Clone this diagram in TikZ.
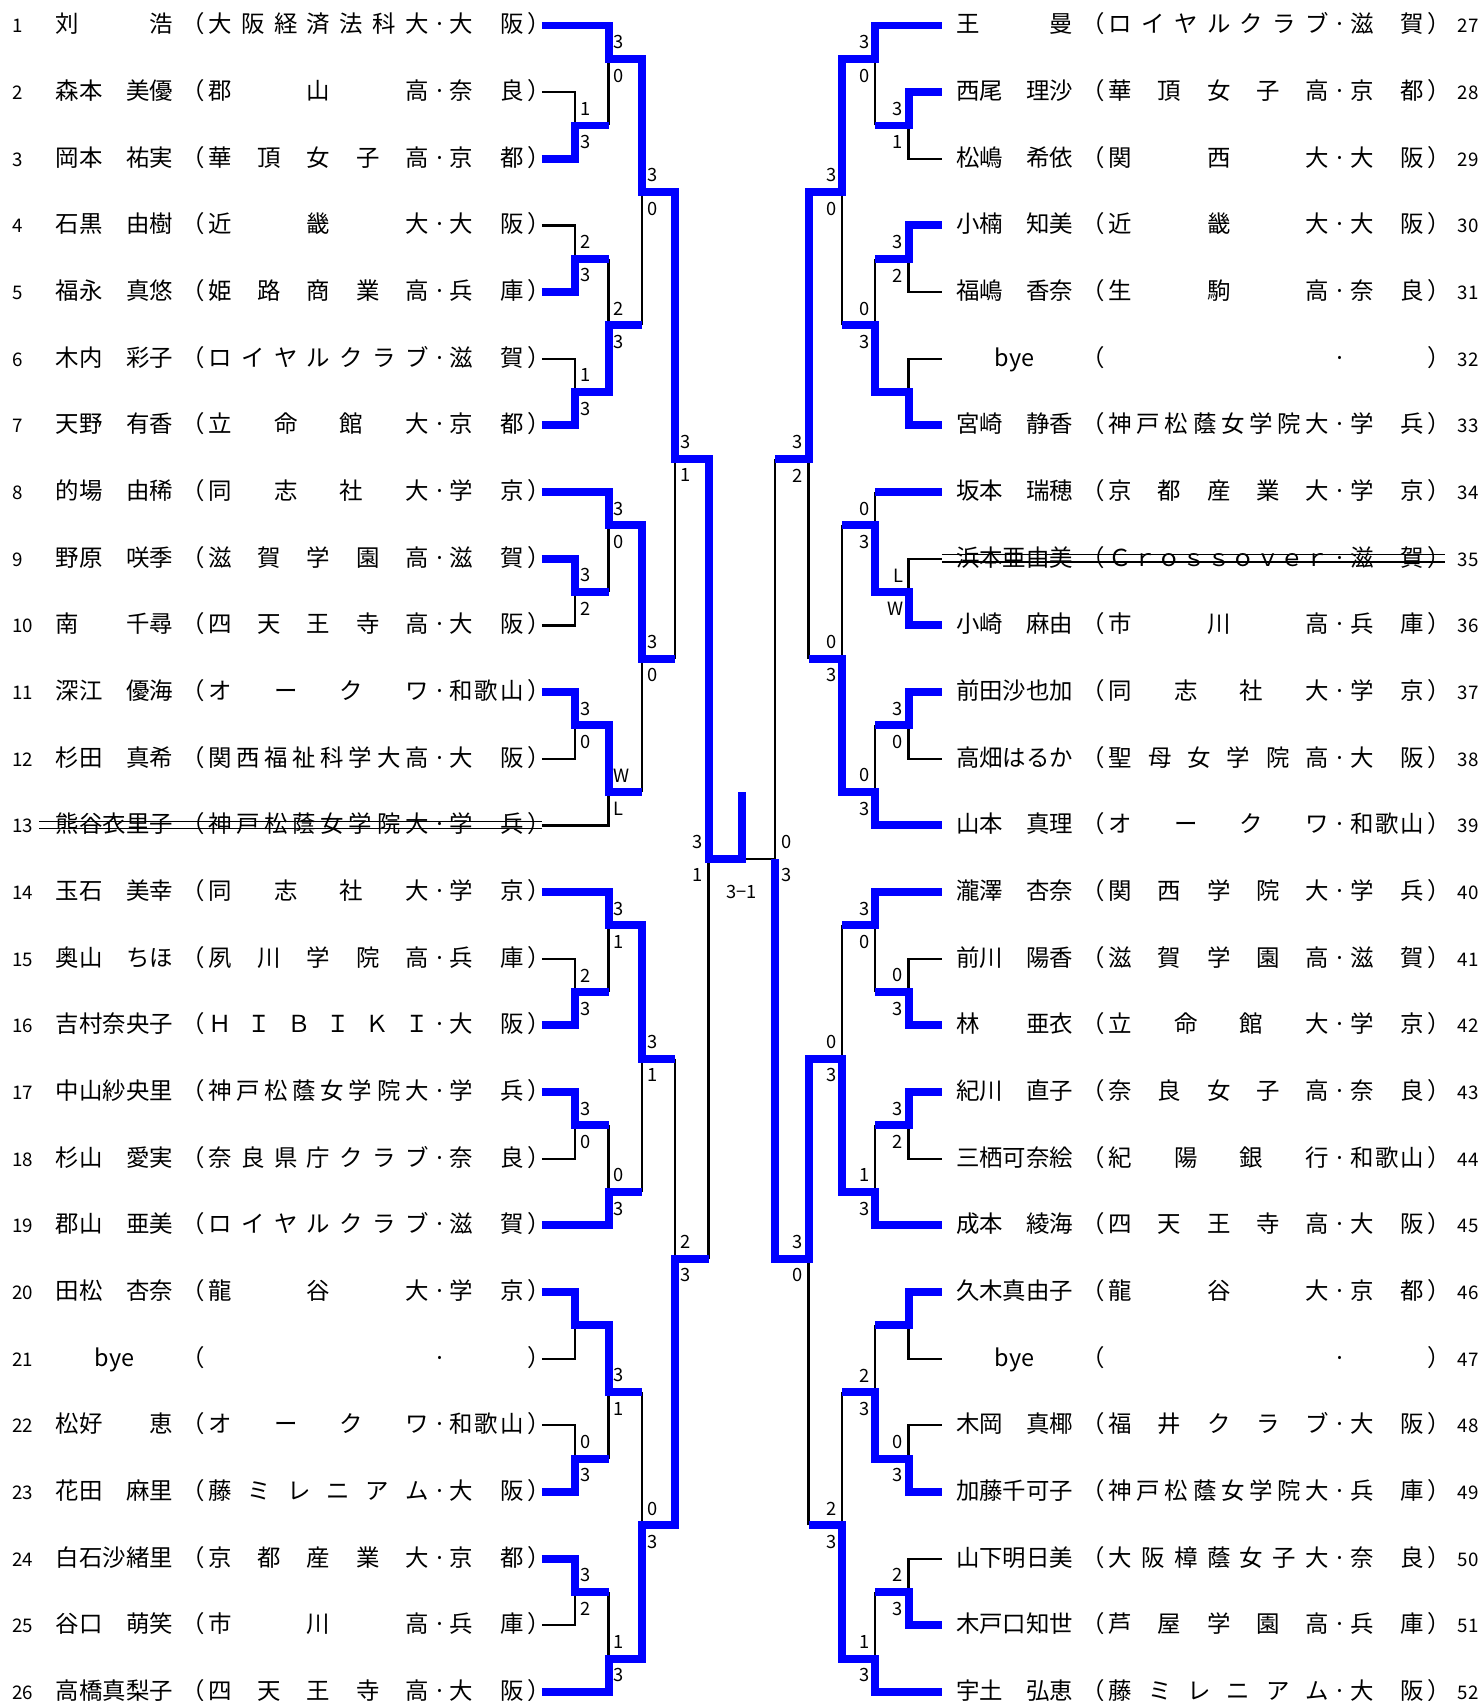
\documentclass[tikz,border=0pt]{standalone}
\usepackage{fontspec}
\setmainfont{Noto Sans CJK JP}
\pgfdeclarelayer{back}
\pgfsetlayers{back,main}
\definecolor{winblue}{RGB}{0,0,255}
% spread the characters of a word over a fixed width
\def\SpFirst#1{\ifx\relax#1\else#1\expandafter\SpRest\fi}
\def\SpRest#1{\ifx\relax#1\else\hfill#1\expandafter\SpRest\fi}
\newcommand\spreadbox[2]{\makebox[#1][s]{\expandafter\SpFirst#2\relax}}
\tikzset{
  win/.style={winblue, line width=3.4pt},
  lose/.style={black, line width=0.95pt},
  strike/.style={black, line width=0.6pt},
  entry/.style={inner sep=0pt, anchor=base west, font=\fontsize{10}{12}\selectfont},
  rownum/.style={inner sep=0pt, anchor=base west, font=\fontsize{8}{10}\selectfont},
  score/.style={inner sep=0pt, font=\fontsize{7.8}{9}\selectfont},
}

\begin{document}
\begin{tikzpicture}[x=0.5cm, y=-0.5cm]
\useasboundingbox (-22.26,-0.765) rectangle (22.26,50.27);

% players, left half
\foreach \n/\nm/\af/\pf in {
  1/{刘\hfill 浩}/大阪経済法科大/大阪, 2/{森本\hfill 美優}/郡山高/奈良,
  3/{岡本\hfill 祐実}/華頂女子高/京都, 4/{石黒\hfill 由樹}/近畿大/大阪,
  5/{福永\hfill 真悠}/姫路商業高/兵庫, 6/{木内\hfill 彩子}/ロイヤルクラブ/滋賀,
  7/{天野\hfill 有香}/立命館大/京都, 8/{的場\hfill 由稀}/同志社大/学京,
  9/{野原\hfill 咲季}/滋賀学園高/滋賀, 10/{南\hfill 千尋}/四天王寺高/大阪,
  11/{深江\hfill 優海}/オークワ/和歌山, 12/{杉田\hfill 真希}/関西福祉科学大高/大阪,
  13/熊谷衣里子/神戸松蔭女学院大/学兵, 14/{玉石\hfill 美幸}/同志社大/学京,
  15/{奥山\hfill ちほ}/夙川学院高/兵庫, 16/吉村奈央子/ＨＩＢＩＫＩ/大阪,
  17/中山紗央里/神戸松蔭女学院大/学兵, 18/{杉山\hfill 愛実}/奈良県庁クラブ/奈良,
  19/{郡山\hfill 亜美}/ロイヤルクラブ/滋賀, 20/{田松\hfill 杏奈}/龍谷大/学京,
  21/{\hfil bye\hfil}/　/　, 22/{松好\hfill 恵}/オークワ/和歌山,
  23/{花田\hfill 麻里}/藤ミレニアム/大阪, 24/白石沙緒里/京都産業大/京都,
  25/{谷口\hfill 萌笑}/市川高/兵庫, 26/高橋真梨子/四天王寺高/大阪} {
  \pgfmathsetmacro\yb{2*\n-2+0.22}
  \node[rownum] (Lnum\n) at (-21.9,\yb) {\n};
  \node[entry] (Lname\n) at (-20.6,\yb) {\makebox[5em][s]{\nm}};
  \node[entry, anchor=base east] (Lop\n) at (-16.1,\yb) {（};
  \node[entry] (Laff\n) at (-16.02,\yb) {\spreadbox{9.4em}{\af}};
  \node[entry, anchor=base] (Ldot\n) at (-9.07,\yb) {·};
  \node[entry] (Lpref\n) at (-8.78,\yb) {\spreadbox{3.15em}{\pf}};
  \node[entry] (Lcl\n) at (-6.45,\yb) {）};
}

% players, right half
\foreach \n/\nm/\af/\pf in {
  27/{王\hfill 曼}/ロイヤルクラブ/滋賀, 28/{西尾\hfill 理沙}/華頂女子高/京都,
  29/{松嶋\hfill 希依}/関西大/大阪, 30/{小楠\hfill 知美}/近畿大/大阪,
  31/{福嶋\hfill 香奈}/生駒高/奈良, 32/{\hfil bye\hfil}/　/　,
  33/{宮崎\hfill 静香}/神戸松蔭女学院大/学兵, 34/{坂本\hfill 瑞穂}/京都産業大/学京,
  35/浜本亜由美/Ｃｒｏｓｓｏｖｅｒ/滋賀, 36/{小崎\hfill 麻由}/市川高/兵庫,
  37/前田沙也加/同志社大/学京, 38/高畑はるか/聖母女学院高/大阪,
  39/{山本\hfill 真理}/オークワ/和歌山, 40/{瀧澤\hfill 杏奈}/関西学院大/学兵,
  41/{前川\hfill 陽香}/滋賀学園高/滋賀, 42/{林\hfill 亜衣}/立命館大/学京,
  43/{紀川\hfill 直子}/奈良女子高/奈良, 44/三栖可奈絵/紀陽銀行/和歌山,
  45/{成本\hfill 綾海}/四天王寺高/大阪, 46/久木真由子/龍谷大/京都,
  47/{\hfil bye\hfil}/　/　, 48/{木岡\hfill 真椰}/福井クラブ/大阪,
  49/加藤千可子/神戸松蔭女学院大/兵庫, 50/山下明日美/大阪樟蔭女子大/奈良,
  51/木戸口知世/芦屋学園高/兵庫, 52/{宇土\hfill 弘恵}/藤ミレニアム/大阪} {
  \pgfmathsetmacro\yb{2*\n-54+0.22}
  \node[rownum] (Rnum\n) at (21.46,\yb) {\n};
  \node[entry] (Rname\n) at (6.41,\yb) {\makebox[5em][s]{\nm}};
  \node[entry, anchor=base east] (Rop\n) at (10.91,\yb) {（};
  \node[entry] (Raff\n) at (10.99,\yb) {\spreadbox{9.4em}{\af}};
  \node[entry, anchor=base] (Rdot\n) at (17.94,\yb) {·};
  \node[entry] (Rpref\n) at (18.23,\yb) {\spreadbox{3.15em}{\pf}};
  \node[entry] (Rcl\n) at (20.56,\yb) {）};
}

% withdrawn players
\draw[strike] (-21.08,23.88) -- (-6,23.88) (-21.08,24.1) -- (-6,24.1);
\draw[strike] (6,15.88) -- (21.1,15.88) (6,16.1) -- (21.1,16.1);

% left bracket
\begin{scope}
\begin{pgfonlayer}{back}
\foreach \y/\j in {2/3,6/7,10/11,18/17,22/21,28/29,34/33,40/39,42/43,48/47}
  \draw[lose] (-6,\y) -| (-5,\j);
\draw[lose] (-6,24) -| (-4,23);
\foreach \x/\a/\b in {-4/3/1,-4/7/9,-3/9/5,-2/19/13,-4/17/15,-3/23/19,-2/31/37,
    -4/29/27,-4/33/35,-3/35/31,-3/41/45,-4/43/41,-4/47/49,-1/37/25}
  \draw[lose] (\x,\a) -- (\x,\b);
\end{pgfonlayer}
\draw[win] (-6,0) -| (-4,1) -| (-3,5) -| (-2,13) -| (-1,25) -| (0,23);
\draw[win] (-6,4) -| (-5,3) -- (-4,3);
\draw[win] (-6,8) -| (-5,7) -- (-4,7);
\draw[win] (-6,12) -| (-5,11) -| (-4,9) -- (-3,9);
\draw[win] (-6,14) -| (-4,15) -| (-3,19) -- (-2,19);
\draw[win] (-6,16) -| (-5,17) -- (-4,17);
\draw[win] (-6,20) -| (-5,21) -| (-4,23) -- (-3,23);
\draw[win] (-6,26) -| (-4,27) -| (-3,31) -- (-2,31);
\draw[win] (-6,30) -| (-5,29) -- (-4,29);
\draw[win] (-6,32) -| (-5,33) -- (-4,33);
\draw[win] (-6,36) -| (-4,35) -- (-3,35);
\draw[win] (-6,38) -| (-5,39) -| (-4,41) -- (-3,41);
\draw[win] (-6,44) -| (-5,43) -- (-4,43);
\draw[win] (-6,46) -| (-5,47) -- (-4,47);
\draw[win] (-6,50) -| (-4,49) -| (-3,45) -| (-2,37) -- (-1,37);
\foreach \x/\j/\a/\b in {-5/3/1/3,-4/1/3/0,-5/7/2/3,-5/11/1/3,-4/9/2/3,-3/5/3/0,
    -5/17/3/2,-4/15/3/0,-5/21/3/0,-4/23/W/L,-3/19/3/0,-2/13/3/1,-5/29/2/3,
    -4/27/3/1,-5/33/3/0,-4/35/0/3,-3/31/3/1,-5/43/0/3,-4/41/3/1,-5/47/3/2,
    -4/49/1/3,-3/45/0/3,-2/37/2/3} {
  \node[score, anchor=west] (La\x\j) at ({\x+0.14},{\j-0.5}) {\a};
  \node[score, anchor=west] (Lb\x\j) at ({\x+0.14},{\j+0.5}) {\b};
}
\end{scope}

% right bracket, drawn mirrored
\begin{scope}[xscale=-1]
\begin{pgfonlayer}{back}
\foreach \y/\j in {4/3,8/7,10/11,16/17,22/21,28/29,34/33,40/39,42/43,46/47}
  \draw[lose] (-6,\y) -| (-5,\j);
\foreach \x/\a/\b in {-1/13/25,-4/3/1,-4/7/9,-3/9/5,-4/14/15,-3/15/19,-4/21/23,
    -2/19/13,-3/27/31,-4/29/27,-4/33/35,-4/39/41,-3/41/45,-4/47/49,-2/45/37}
  \draw[lose] (\x,\a) -- (\x,\b);
\draw[lose] (-1,25) -- (0,25);
\end{pgfonlayer}
\draw[win] (-6,0) -| (-4,1) -| (-3,5) -| (-2,13) -- (-1,13);
\draw[win] (-6,2) -| (-5,3) -- (-4,3);
\draw[win] (-6,6) -| (-5,7) -- (-4,7);
\draw[win] (-6,12) -| (-5,11) -| (-4,9) -- (-3,9);
\draw[win] (-6,14) -- (-4,14);
\draw[win] (-6,18) -| (-5,17) -| (-4,15) -- (-3,15);
\draw[win] (-6,20) -| (-5,21) -- (-4,21);
\draw[win] (-6,24) -| (-4,23) -| (-3,19) -- (-2,19);
\draw[win] (-6,26) -| (-4,27) -- (-3,27);
\draw[win] (-6,30) -| (-5,29) -- (-4,29);
\draw[win] (-6,32) -| (-5,33) -- (-4,33);
\draw[win] (-6,36) -| (-4,35) -| (-3,31) -| (-2,37) -| (-1,25);
\draw[win] (-6,38) -| (-5,39) -- (-4,39);
\draw[win] (-6,44) -| (-5,43) -| (-4,41) -- (-3,41);
\draw[win] (-6,48) -| (-5,47) -- (-4,47);
\draw[win] (-6,50) -| (-4,49) -| (-3,45) -- (-2,45);
\foreach \x/\j/\a/\b in {-5/3/3/1,-4/1/3/0,-5/7/3/2,-4/9/0/3,-3/5/3/0,-5/17/L/W,
    -4/15/0/3,-5/21/3/0,-4/23/0/3,-3/19/0/3,-2/13/3/2,-5/29/0/3,-4/27/3/0,
    -5/33/3/2,-4/35/1/3,-3/31/0/3,-5/43/0/3,-4/41/2/3,-5/47/2/3,-4/49/1/3,
    -3/45/2/3,-2/37/3/0} {
  \node[score, anchor=east] (Ra\x\j) at ({\x+0.15},{\j-0.5}) {\a};
  \node[score, anchor=east] (Rb\x\j) at ({\x+0.15},{\j+0.5}) {\b};
}
\end{scope}

% final
\node[score, anchor=east] (Lfa) at (-1.16,24.5) {3};
\node[score, anchor=east] (Lfb) at (-1.16,25.5) {1};
\node[score, anchor=west] (Rfa) at (1.16,24.5) {0};
\node[score, anchor=west] (Rfb) at (1.16,25.5) {3};
\node[score] (result) at (0,26) {3−1};
\end{tikzpicture}
\end{document}
